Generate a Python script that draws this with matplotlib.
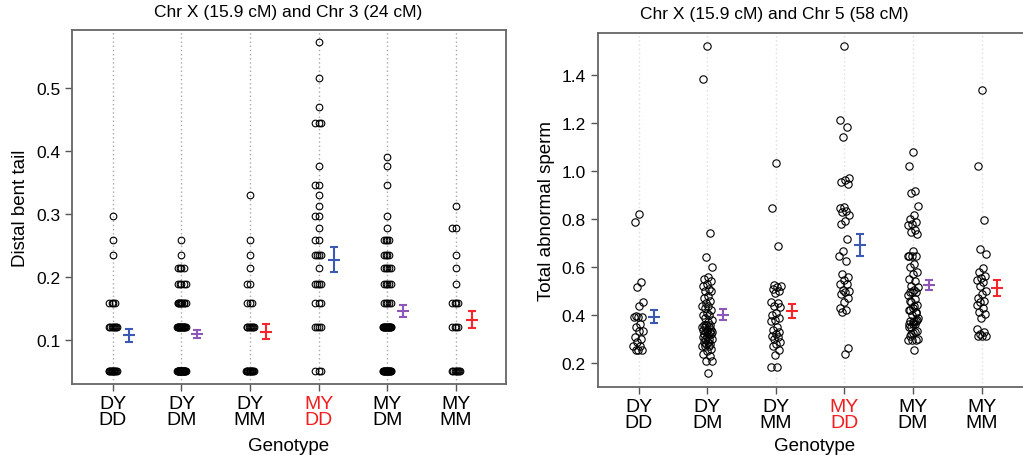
import matplotlib
matplotlib.use("Agg")
import matplotlib.pyplot as plt
import numpy as np

plt.rcParams['font.family'] = ['Liberation Sans', 'DejaVu Sans']

genotypes = ["DY\nDD", "DY\nDM", "DY\nMM", "MY\nDD", "MY\nDM", "MY\nMM"]
bar_colors = ["#3c58b5", "#8c57b8", "#f2262b", "#3c58b5", "#8c57b8", "#f2262b"]

# distal bent tail: scored on discrete levels, counts per genotype
bent_levels = [0.05, 0.12, 0.158, 0.188, 0.214, 0.235, 0.258, 0.278, 0.296,
               0.313, 0.33, 0.346, 0.376, 0.39, 0.444, 0.469, 0.516, 0.572]
bent_counts = [
    [12, 8, 4, 0, 0, 1, 1, 0, 1, 0, 0, 0, 0, 0, 0, 0, 0, 0],
    [26, 18, 10, 5, 4, 1, 1, 0, 0, 0, 0, 0, 0, 0, 0, 0, 0, 0],
    [12, 8, 3, 2, 1, 1, 1, 0, 0, 0, 1, 0, 0, 0, 0, 0, 0, 0],
    [3, 4, 3, 4, 1, 4, 2, 1, 2, 1, 1, 2, 1, 0, 3, 1, 1, 1],
    [20, 18, 5, 5, 5, 4, 4, 1, 1, 0, 0, 1, 1, 1, 0, 0, 0, 0],
    [8, 4, 4, 1, 1, 1, 0, 2, 0, 1, 0, 0, 0, 0, 0, 0, 0, 0],
]
bent_mean = [0.107, 0.109, 0.113, 0.227, 0.1455, 0.132]
bent_se = [0.011, 0.0065, 0.012, 0.0195, 0.010, 0.0135]

# total abnormal sperm per animal
sperm_dy_dd = [0.821, 0.789, 0.536, 0.515, 0.454, 0.437, 0.398, 0.391, 0.391, 0.391,
               0.363, 0.349, 0.335, 0.335, 0.31, 0.30, 0.287, 0.273, 0.273,
               0.256, 0.256, 0.256]
sperm_dy_dm = [1.52, 1.38, 0.74, 0.64, 0.60, 0.56, 0.55, 0.54, 0.53, 0.52, 0.51,
               0.50, 0.50, 0.48, 0.47, 0.46, 0.45, 0.44, 0.44, 0.43, 0.42, 0.41,
               0.40, 0.40, 0.39, 0.38, 0.37, 0.36, 0.36, 0.36, 0.35, 0.35, 0.35,
               0.34, 0.34, 0.34, 0.33, 0.33, 0.33, 0.32, 0.32, 0.32, 0.31, 0.31,
               0.30, 0.30, 0.30, 0.29, 0.29, 0.28, 0.28, 0.27, 0.27, 0.27, 0.26,
               0.25, 0.24, 0.23, 0.21, 0.21, 0.16]
sperm_dy_mm = [1.033, 0.846, 0.686, 0.525, 0.52, 0.515, 0.51, 0.50, 0.49, 0.455,
               0.45, 0.44, 0.435, 0.41, 0.40, 0.39, 0.38, 0.375, 0.35, 0.34,
               0.33, 0.32, 0.315, 0.31, 0.30, 0.29, 0.28, 0.27, 0.255, 0.236,
               0.186, 0.186]
sperm_my_dd = [1.52, 1.213, 1.181, 1.141, 0.969, 0.96, 0.955, 0.947, 0.849, 0.845,
               0.835, 0.828, 0.817, 0.79, 0.779, 0.717, 0.665, 0.645, 0.624,
               0.571, 0.557, 0.546, 0.53, 0.529, 0.506, 0.50, 0.495, 0.487,
               0.47, 0.456, 0.431, 0.423, 0.412, 0.262, 0.237]
sperm_my_dm = [1.08, 1.022, 0.918, 0.908, 0.855, 0.817, 0.80, 0.789, 0.779, 0.776,
               0.755, 0.747, 0.737, 0.668, 0.645, 0.645, 0.645, 0.645, 0.613,
               0.60, 0.581, 0.571, 0.55, 0.54, 0.523, 0.516, 0.506, 0.495,
               0.495, 0.495, 0.485, 0.467, 0.456, 0.443, 0.431, 0.423, 0.412,
               0.40, 0.39, 0.377, 0.377, 0.377, 0.363, 0.363, 0.363, 0.35,
               0.336, 0.326, 0.312, 0.298, 0.298, 0.298, 0.257, 0.42, 0.38,
               0.37, 0.35, 0.33, 0.32, 0.30, 0.44, 0.46, 0.41]
sperm_my_mm = [1.336, 1.022, 0.795, 0.675, 0.654, 0.595, 0.581, 0.564, 0.553,
               0.546, 0.537, 0.523, 0.502, 0.488, 0.47, 0.46, 0.453, 0.443,
               0.431, 0.412, 0.403, 0.387, 0.343, 0.331, 0.322, 0.312, 0.312,
               0.312]
sperm_groups = [sperm_dy_dd, sperm_dy_dm, sperm_dy_mm,
                sperm_my_dd, sperm_my_dm, sperm_my_mm]
sperm_mean = [0.394, 0.402, 0.418, 0.692, 0.524, 0.512]
sperm_se = [0.028, 0.022, 0.028, 0.047, 0.021, 0.034]


def spread(n, width):
    # evenly scattered horizontal offsets (golden-ratio sequence)
    k = np.arange(n)
    return ((k * 0.6180339887 + 0.5) % 1.0 - 0.5) * 2 * width


def style_axes(ax, ylabel, grid_color, xlab_y):
    pos = np.arange(1, 7)
    for p in pos:
        ax.axvline(p, color=grid_color, lw=1.0, ls=(0, (1, 2)), zorder=0)
    ax.set_xlim(0.405, 6.73)
    ax.set_xticks(pos)
    ax.set_xticklabels(genotypes, fontsize=14, linespacing=0.92)
    ax.get_xticklabels()[3].set_color("#f21d1d")
    ax.tick_params(axis="both", direction="out", length=5, width=1,
                   color="#555555", labelsize=12.5)
    ax.tick_params(axis="x", labelsize=14, pad=3)
    for s in ax.spines.values():
        s.set_color("#666666")
        s.set_linewidth(1.3)
    ax.set_xlabel("Genotype", fontsize=13.5)
    ax.xaxis.set_label_coords(0.5, xlab_y)
    ax.set_ylabel(ylabel, fontsize=13.5, labelpad=5)


def draw_bars(ax, means, ses):
    for i, (m, s) in enumerate(zip(means, ses)):
        x = i + 1 + 0.23
        ax.errorbar(x, m, yerr=s, fmt="none", ecolor=bar_colors[i],
                    elinewidth=1.5, capsize=3.0, capthick=1.5, zorder=3)
        ax.plot(x, m, marker="_", ms=8.5, mew=1.5, color=bar_colors[i], zorder=3)


fig = plt.figure(figsize=(10.23, 4.56), dpi=100)
ax1 = fig.add_axes([0.0704, 0.1557, 0.4242, 0.7763])
ax2 = fig.add_axes([0.5843, 0.149, 0.4242, 0.7764])

# left: distal bent tail
for i, counts in enumerate(bent_counts):
    for lev, c in zip(bent_levels, counts):
        if c == 0:
            continue
        xs = i + 1 + spread(c, 0.065)
        ax1.plot(xs, [lev] * c, "o", mfc="none", mec="black", ms=4.8,
                 mew=0.8, zorder=2)
draw_bars(ax1, bent_mean, bent_se)
style_axes(ax1, "Distal bent tail", "#a8a8a8", -0.150)
ax1.set_ylim(0.030, 0.5914)
ax1.set_yticks([0.1, 0.2, 0.3, 0.4, 0.5])

# right: total abnormal sperm
for i, vals in enumerate(sperm_groups):
    xs = i + 1 + spread(len(vals), 0.075)
    ax2.plot(xs, vals, "o", mfc="none", mec="black", ms=5.3, mew=0.8, zorder=2)
draw_bars(ax2, sperm_mean, sperm_se)
style_axes(ax2, "Total abnormal sperm", "#dddddd", -0.141)
ax2.set_ylim(0.101, 1.573)
ax2.set_yticks([0.2, 0.4, 0.6, 0.8, 1.0, 1.2, 1.4])

fig.text(0.2815, 0.972, "Chr X (15.9 cM) and Chr 3 (24 cM)", ha="center",
         va="center", fontsize=12.5)
fig.text(0.757, 0.968, "Chr X (15.9 cM) and Chr 5 (58 cM)", ha="center",
         va="center", fontsize=12.5)

fig.savefig("out.png", dpi=100)
